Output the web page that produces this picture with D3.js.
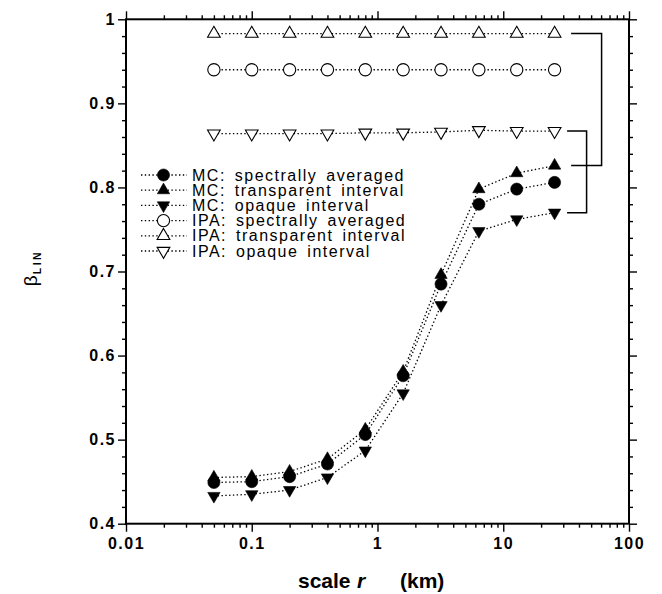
<!DOCTYPE html>
<html>
<head>
<meta charset="utf-8">
<script src="https://cdn.jsdelivr.net/npm/d3@7/dist/d3.min.js"></script>
<style>
  html, body { margin: 0; padding: 0; background: #fff; }
  svg { display: block; font-family: "Liberation Sans", Arial, Helvetica, sans-serif; }
</style>
</head>
<body>
<svg id="chart" width="662" height="594"></svg>
<script>
// Spatial scale r (km) at which each beta_LIN value was evaluated
const scales = [0.05, 0.1, 0.2, 0.4, 0.8, 1.6, 3.2, 6.4, 12.8, 25.6];

// Monte Carlo results
const mcAveraged    = [0.449, 0.450, 0.456, 0.471, 0.506, 0.576, 0.685, 0.780, 0.798, 0.806];
const mcTransparent = [0.455, 0.456, 0.462, 0.477, 0.512, 0.581, 0.696, 0.798, 0.817, 0.826];
const mcOpaque      = [0.433, 0.435, 0.440, 0.455, 0.487, 0.555, 0.660, 0.748, 0.762, 0.770];

// Independent pixel approximation results
const ipaAveraged    = [0.940, 0.940, 0.940, 0.940, 0.940, 0.940, 0.940, 0.940, 0.940, 0.940];
const ipaTransparent = [0.983, 0.983, 0.983, 0.983, 0.983, 0.983, 0.983, 0.983, 0.983, 0.983];
const ipaOpaque      = [0.864, 0.864, 0.864, 0.864, 0.865, 0.865, 0.866, 0.868, 0.867, 0.867];

const seriesNames = [
  "MC: spectrally averaged",
  "MC: transparent interval",
  "MC: opaque interval",
  "IPA: spectrally averaged",
  "IPA: transparent interval",
  "IPA: opaque interval"
];

const xTickValues = [0.01, 0.1, 1, 10, 100];
const xTickLabels = ["0.01", "0.1", "1", "10", "100"];
const yTickValues = [0.4, 0.5, 0.6, 0.7, 0.8, 0.9, 1];
const yTickLabels = ["0.4", "0.5", "0.6", "0.7", "0.8", "0.9", "1"];

const svg = d3.select("#chart");
const plotLeft = 126, plotRight = 629, plotTop = 19.3, plotBottom = 523.7;

const x = d3.scaleLog().domain([0.01, 100]).range([plotLeft, plotRight]);
const y = d3.scaleLinear().domain([0.4, 1]).range([plotBottom, plotTop]);

// minor ticks: 2..9 within each decade, every 0.02 in beta
const xMinor = [];
for (let e = -2; e < 2; e++) for (let m = 2; m <= 9; m++) xMinor.push(m * Math.pow(10, e));
const yMinor = d3.range(0, 31).map(i => +(0.4 + i * 0.02).toFixed(2))
  .filter(v => !yTickValues.some(t => Math.abs(t - v) < 1e-9));

function styleAxis(g) {
  g.select(".domain").remove();
  g.selectAll(".tick line").attr("stroke", "#000").attr("stroke-width", 1.4);
}

const majorLen = 8, minorLen = 4;

// bottom axis with labels
const gB = svg.append("g").attr("transform", `translate(0,${plotBottom})`);
gB.call(d3.axisBottom(x).tickValues(xTickValues).tickSize(majorLen).tickPadding(6)
  .tickFormat((d, i) => xTickLabels[i]));
gB.call(styleAxis);
gB.selectAll(".tick text").attr("font-size", 16).attr("font-weight", "bold")
  .attr("letter-spacing", "1.5px").attr("fill", "#000")
  .attr("font-family", "'Liberation Sans', Arial, sans-serif");
svg.append("g").attr("transform", `translate(0,${plotBottom})`)
  .call(d3.axisBottom(x).tickValues(xMinor).tickSize(minorLen).tickFormat(""))
  .call(styleAxis);

// top axis, ticks only
svg.append("g").attr("transform", `translate(0,${plotTop})`)
  .call(d3.axisTop(x).tickValues(xTickValues).tickSize(majorLen).tickFormat(""))
  .call(styleAxis);
svg.append("g").attr("transform", `translate(0,${plotTop})`)
  .call(d3.axisTop(x).tickValues(xMinor).tickSize(minorLen).tickFormat(""))
  .call(styleAxis);

// left axis with labels
const gL = svg.append("g").attr("transform", `translate(${plotLeft},0)`);
gL.call(d3.axisLeft(y).tickValues(yTickValues).tickSize(majorLen).tickPadding(2)
  .tickFormat((d, i) => yTickLabels[i]));
gL.call(styleAxis);
gL.selectAll(".tick text").attr("font-size", 16).attr("font-weight", "bold")
  .attr("letter-spacing", "1.5px").attr("fill", "#000")
  .attr("font-family", "'Liberation Sans', Arial, sans-serif");
svg.append("g").attr("transform", `translate(${plotLeft},0)`)
  .call(d3.axisLeft(y).tickValues(yMinor).tickSize(minorLen).tickFormat(""))
  .call(styleAxis);

// right axis, ticks only
svg.append("g").attr("transform", `translate(${plotRight},0)`)
  .call(d3.axisRight(y).tickValues(yTickValues).tickSize(majorLen).tickFormat(""))
  .call(styleAxis);
svg.append("g").attr("transform", `translate(${plotRight},0)`)
  .call(d3.axisRight(y).tickValues(yMinor).tickSize(minorLen).tickFormat(""))
  .call(styleAxis);

// plot frame
svg.append("rect").attr("x", plotLeft).attr("y", plotTop)
  .attr("width", plotRight - plotLeft).attr("height", plotBottom - plotTop)
  .attr("fill", "none").attr("stroke", "#000").attr("stroke-width", 2);

// marker definitions
const markerDefs = [
  { type: d3.symbolCircle,   size: 115, fill: "#000", rot: 0 },
  { type: d3.symbolTriangle, size: 66,  fill: "#000", rot: 0 },
  { type: d3.symbolTriangle, size: 66,  fill: "#000", rot: 180 },
  { type: d3.symbolCircle,   size: 118, fill: "#fff", rot: 0 },
  { type: d3.symbolTriangle, size: 70,  fill: "#fff", rot: 0 },
  { type: d3.symbolTriangle, size: 70,  fill: "#fff", rot: 180 }
];
const allSeries = [mcAveraged, mcTransparent, mcOpaque, ipaAveraged, ipaTransparent, ipaOpaque];

const line = d3.line().x(d => x(d[0])).y(d => y(d[1]));
const dots = "1.4,2.4";

// dotted connecting lines
allSeries.forEach(vals => {
  svg.append("path")
    .datum(scales.map((s, i) => [s, vals[i]]))
    .attr("d", line)
    .attr("fill", "none").attr("stroke", "#000")
    .attr("stroke-width", 1.3).attr("stroke-dasharray", dots);
});

function drawMarker(g, def, cx, cy) {
  g.append("path")
    .attr("d", d3.symbol().type(def.type).size(def.size)())
    .attr("transform", `translate(${cx},${cy}) rotate(${def.rot})`)
    .attr("fill", def.fill)
    .attr("stroke", "#000")
    .attr("stroke-width", def.fill === "#000" ? 0.6 : 1.1);
}

// markers: IPA first, then MC on top
[3, 4, 5, 0, 1, 2].forEach(k => {
  const g = svg.append("g");
  scales.forEach((s, i) => drawMarker(g, markerDefs[k], x(s), y(allSeries[k][i])));
});

// brackets pairing IPA and MC values at the largest scale
const last = scales.length - 1;
const xl = x(scales[last]);
function bracket(v1, v2, x0, x1) {
  const p = d3.path();
  p.moveTo(xl + x0, y(v1));
  p.lineTo(xl + x1, y(v1));
  p.lineTo(xl + x1, y(v2));
  p.lineTo(xl + x0, y(v2));
  svg.append("path").attr("d", p.toString())
    .attr("fill", "none").attr("stroke", "#000").attr("stroke-width", 1.5);
}
bracket(ipaTransparent[last], mcTransparent[last], 16.5, 47);
bracket(ipaOpaque[last], mcOpaque[last], 12.5, 32);

// legend
const legend = svg.append("g");
const legY0 = 175, legStep = 15.2;
seriesNames.forEach((name, k) => {
  const yy = legY0 + k * legStep;
  legend.append("line").attr("x1", 141).attr("x2", 187).attr("y1", yy).attr("y2", yy)
    .attr("stroke", "#000").attr("stroke-width", 1.3).attr("stroke-dasharray", dots);
  drawMarker(legend, markerDefs[k], 163.5, yy);
  legend.append("text").attr("x", 192).attr("y", yy + 5.5)
    .attr("font-size", 16).attr("letter-spacing", "1.5px").attr("word-spacing", "3px")
    .attr("fill", "#000").text(name);
});

// x-axis title
const xt = svg.append("text").attr("y", 588).attr("font-size", 21)
  .attr("font-weight", "bold").attr("fill", "#000");
xt.append("tspan").attr("x", 298).text("scale");
xt.append("tspan").attr("x", 357).attr("font-style", "italic").text("r");
xt.append("tspan").attr("x", 400).text("(km)");

// y-axis title: beta with subscript LIN
const yt = svg.append("text")
  .attr("transform", "translate(37,268) rotate(-90)")
  .attr("text-anchor", "middle").attr("fill", "#000");
yt.append("tspan").attr("font-size", 19).text("β");
yt.append("tspan").attr("font-size", 10.5).attr("font-weight", "bold")
  .attr("letter-spacing", "2.5px").attr("dy", 4).attr("dx", 1).text("LIN");
</script>
</body>
</html>
